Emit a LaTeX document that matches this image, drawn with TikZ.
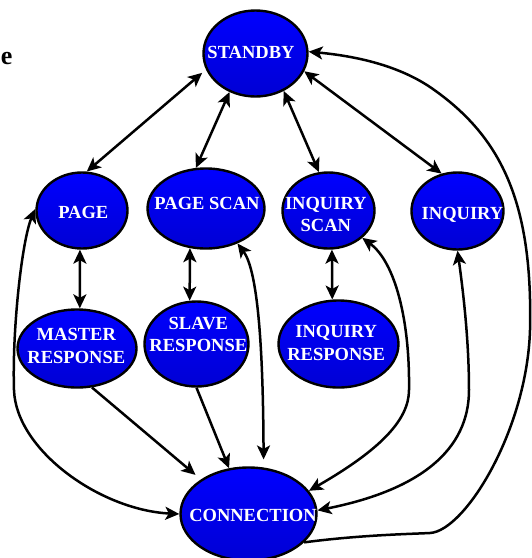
\documentclass[tikz,border=0pt]{standalone}
\usepackage{fontspec}
\setmainfont{Liberation Serif}
\usetikzlibrary{shapes.geometric,arrows.meta}

\definecolor{stateTop}{RGB}{0,0,255}
\definecolor{stateBottom}{RGB}{0,0,212}

\tikzset{
  >={Stealth[length=14pt,width=13pt,inset=3.5pt]},
  state/.style={ellipse, draw=black, line width=2.4pt,
    top color=stateTop, bottom color=stateBottom, inner sep=0pt},
  statelabel/.style={text=white, font=\bfseries\fontsize{18.5}{22.5}\selectfont,
    align=center, inner sep=0pt},
  wire/.style={line width=2.5pt, draw=black},
}

\begin{document}
\begin{tikzpicture}[x=1pt,y=-1pt]
\useasboundingbox (0,0) rectangle (532,558);

% the states
\node[state, minimum width=104pt, minimum height=86pt] (standby)    at (255.5,53.5) {};
\node[state, minimum width=91pt,  minimum height=76pt] (page)       at (82,210.5)   {};
\node[state, minimum width=117pt, minimum height=80pt] (pagescan)   at (206,208.5)  {};
\node[state, minimum width=92pt,  minimum height=76pt] (inqscan)    at (328.5,210.5){};
\node[state, minimum width=92pt,  minimum height=77pt] (inquiry)    at (457.5,211)  {};
\node[state, minimum width=119pt, minimum height=78pt] (master)     at (77,348.5)   {};
\node[state, minimum width=104pt, minimum height=85pt] (slave)      at (196.5,344)  {};
\node[state, minimum width=120pt, minimum height=87pt] (inqresp)    at (338.5,344)  {};
\node[state, minimum width=136pt, minimum height=93pt] (connection) at (248.5,514)  {};

% transitions from and to STANDBY
\draw[wire, <->, shorten <=5pt] (standby.198) -- (page.83);
\draw[wire, <->] (standby.236) -- (pagescan.104);
\draw[wire, <->] (standby.307) -- (inqscan.104);
\draw[wire, <->] (standby.340) -- (inquiry.113);

% paging and inquiry handshakes
\draw[wire, <->] (page.267) -- (master.86);
\draw[wire, <->] (pagescan.248) -- (slave.99);
\draw[wire, <->] (inqscan.275) -- (inqresp.98);

% into CONNECTION
\draw[wire, ->, shorten >=7pt] (master.291) -- (connection.144);
\draw[wire, ->] (slave.270) -- (connection.113);
\draw[wire, <->] (page.178) .. controls (22,240) and (12,330) .. (14,390)
  .. controls (16,450) and (100,510) .. (connection.180);
\draw[wire, <->, shorten >=8pt] (pagescan.312) .. controls (256,268) and (263,330) .. (connection.72);
\draw[wire, <->] (inqscan.321) .. controls (395,262) and (410,320) .. (409,390)
  .. controls (409,420) and (380,450) .. (connection.21);
\draw[wire, <->] (inquiry.270) .. controls (463,290) and (469,340) .. (469,390)
  .. controls (469,450) and (420,490) .. (connection.3);

% back from CONNECTION to STANDBY
\draw[wire, ->] (connection.333) .. controls (360,535) and (410,534) .. (430,533)
  .. controls (465,531) and (527,430) .. (530,330)
  .. controls (533,200) and (500,135) .. (430,87)
  .. controls (397,65) and (355,56) .. (standby.2);

% state names
\node[statelabel, anchor=base] (standby-t)    at (251,58.3)   {STANDBY};
\node[statelabel, anchor=base] (page-t)       at (83.3,218.3) {PAGE};
\node[statelabel, anchor=base] (pagescan-t)   at (207,209.3)  {PAGE SCAN};
\node[statelabel, anchor=base] (inquiry-t)    at (462.5,219)  {INQUIRY};
\node[statelabel, anchor=base] (connection-t) at (253,521.7)  {CONNECTION};
\node[statelabel] (inqscan-t) at (325.8,214.7) {INQUIRY\\SCAN};
\node[statelabel] (master-t)  at (76.3,345.8)  {MASTER\\RESPONSE};
\node[statelabel] (slave-t)   at (198.3,334.7) {SLAVE\\RESPONSE};
\node[statelabel] (inqresp-t) at (336.2,342.8) {INQUIRY\\RESPONSE};

% end of the side heading
\node[font=\bfseries\fontsize{26}{30}\selectfont, anchor=base east, inner sep=0pt]
  (side-note) at (12.5,64) {e};
\end{tikzpicture}
\end{document}
